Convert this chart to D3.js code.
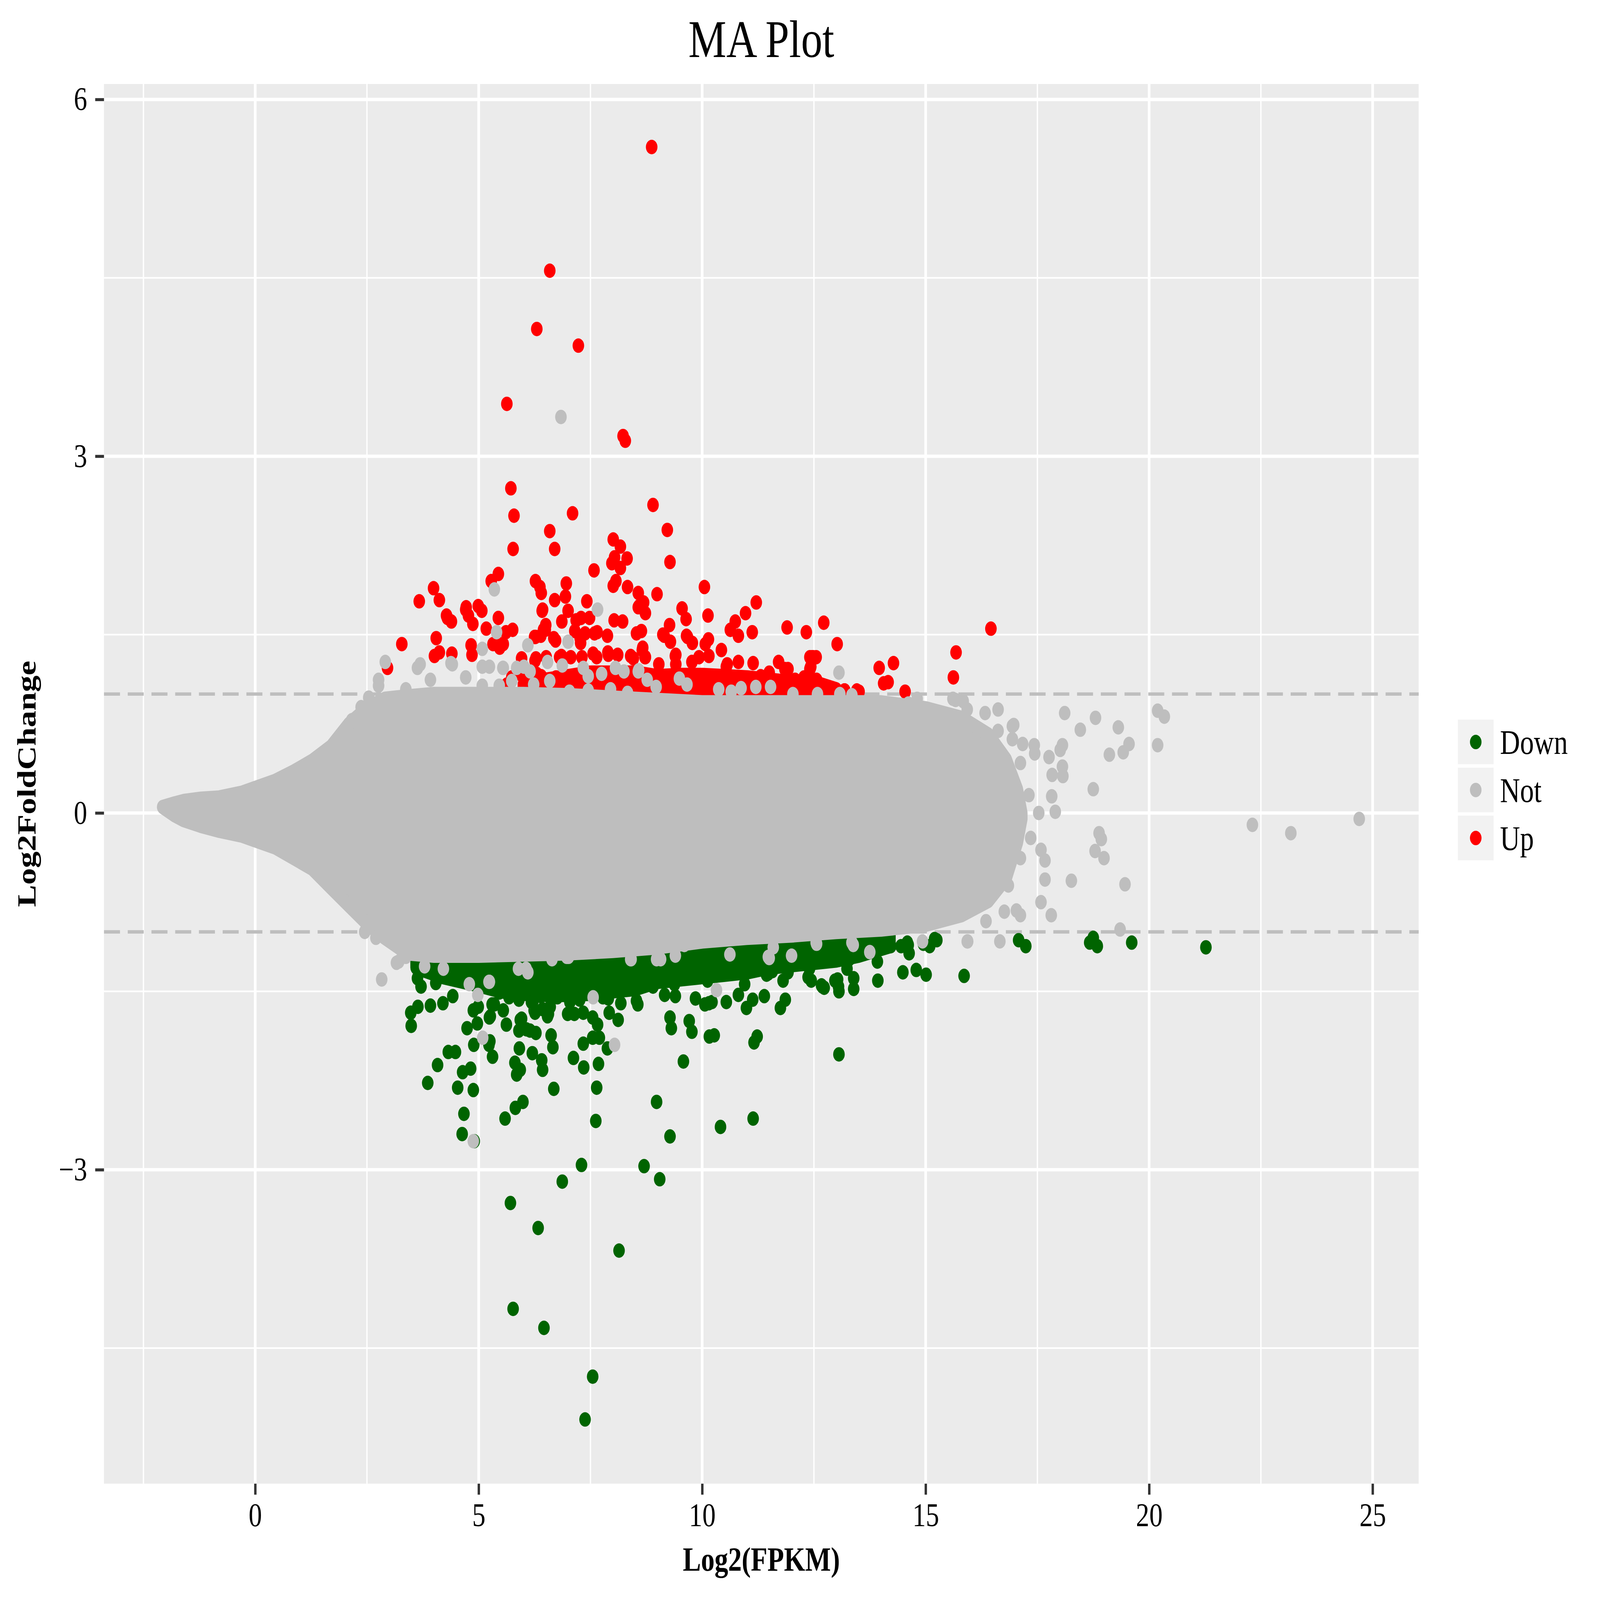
<!DOCTYPE html>
<html>
<head>
<meta charset="utf-8">
<script src="https://cdn.jsdelivr.net/npm/d3@7"></script>
<style>
  html, body { margin: 0; padding: 0; background: #ffffff; overflow: hidden; }
  #chart svg { display: block; width: 100vw; height: 100vh; }
  text { font-family: "Liberation Serif", "Times New Roman", serif; }
</style>
</head>
<body>
<div id="chart"></div>
<script>
// Values (x = Log2(FPKM), y = Log2FoldChange)

// axis ticks
const xMajor = [0, 5, 10, 15, 20, 25];
const xMinor = [-2.5, 2.5, 7.5, 12.5, 17.5, 22.5];
const yMajor = [-3, 0, 3, 6];
const yMinor = [-4.5, -1.5, 1.5, 4.5];
const cutoffs = [-1, 1];
const groups = ["Down", "Not", "Up"];

// dense grey cloud of "Not" genes: outline of the point centres
const cloudX    = [-2.07, -1.8, -1.6, -1.2, -0.8, -0.3, 0.0, 0.45, 0.87, 1.28, 1.7, 2.1, 2.5, 2.9, 3.4, 4.0, 5.0, 6.0, 7.0, 8.0, 9.0, 10.0, 11.0, 12.0, 13.0, 14.0, 15.0, 15.8, 16.4, 16.8, 17.05, 17.15];
const cloudHigh = [0.05, 0.08, 0.10, 0.12, 0.13, 0.17, 0.21, 0.27, 0.35, 0.44, 0.56, 0.75, 0.88, 0.96, 0.98, 1.0, 1.0, 1.0, 0.99, 0.97, 0.95, 0.93, 0.93, 0.93, 0.93, 0.93, 0.88, 0.8, 0.66, 0.45, 0.2, 0.0];
const cloudLow  = [0.05, -0.02, -0.06, -0.11, -0.15, -0.19, -0.23, -0.29, -0.38, -0.47, -0.63, -0.78, -0.93, -1.05, -1.18, -1.2, -1.2, -1.19, -1.18, -1.16, -1.13, -1.08, -1.05, -1.03, -1.0, -0.98, -0.94, -0.86, -0.74, -0.55, -0.25, -0.05];

// dense cores of the Up / Down groups
const upCoreX    = [6.0, 6.5, 7.0, 7.5, 8.0, 8.5, 9.0, 9.5, 10.0, 10.5, 11.0, 11.5, 12.0, 12.5, 13.0];
const upCoreHigh = [1.08, 1.12, 1.15, 1.18, 1.18, 1.18, 1.15, 1.16, 1.16, 1.15, 1.14, 1.12, 1.1, 1.1, 1.04];
const upCoreLow  = [1.0, 1.0, 1.0, 1.0, 1.0, 1.0, 1.0, 1.0, 1.0, 1.0, 1.0, 1.0, 1.0, 1.0, 1.0];

const downCoreX    = [3.6, 4.2, 5.0, 5.5, 6.0, 6.5, 7.0, 7.5, 8.0, 8.5, 9.0, 9.5, 10.0, 10.5, 11.0, 11.5, 12.0, 12.5, 13.0, 13.5, 14.2];
const downCoreHigh = [-1.1, -1.1, -1.1, -1.1, -1.1, -1.1, -1.1, -1.1, -1.1, -1.08, -1.06, -1.04, -1.03, -1.02, -1.02, -1.02, -1.02, -1.02, -1.02, -1.02, -1.02];
const downCoreLow  = [-1.3, -1.38, -1.45, -1.5, -1.52, -1.53, -1.53, -1.52, -1.5, -1.48, -1.42, -1.4, -1.38, -1.36, -1.34, -1.3, -1.28, -1.26, -1.24, -1.2, -1.12];

// individual Up points
const upPoints = [
  [8.87,5.60],[6.59,4.56],[6.30,4.07],[7.23,3.93],[5.63,3.44],[8.23,3.17],[8.28,3.13],[5.72,2.73],[5.79,2.50],[5.77,2.22],
  [8.90,2.59],[7.10,2.52],[6.59,2.37],[6.70,2.22],[9.22,2.38],[9.28,2.11],[8.01,2.30],[8.17,2.24],[8.04,2.15],[7.98,2.10],
  [8.17,2.06],[8.32,2.14],[7.58,2.04],[8.01,1.91],[8.07,1.95],[8.33,1.90],[5.44,2.01],[5.28,1.95],[3.99,1.89],[4.12,1.79],
  [3.67,1.78],[6.27,1.95],[6.37,1.90],[6.40,1.85],[6.96,1.93],[6.94,1.82],[6.70,1.79],[6.42,1.70],[7.00,1.70],[7.42,1.78],
  [8.57,1.85],[8.69,1.77],[8.59,1.74],[8.73,1.68],[8.99,1.84],[10.05,1.90],[9.55,1.72],[9.64,1.63],[10.13,1.66],[11.21,1.77],
  [10.97,1.68],[10.74,1.61],[10.63,1.54],[10.81,1.49],[11.12,1.52],[11.90,1.56],[12.33,1.52],[12.72,1.60],[13.02,1.42],[16.46,1.55],
  [15.68,1.35],[15.62,1.14],[13.96,1.22],[14.28,1.26],[14.16,1.10],[14.06,1.09],[14.54,1.02],[12.48,1.31],[12.43,1.23],[12.57,1.11],
  [11.71,1.27],[11.85,1.21],[11.50,1.18],[11.14,1.26],[10.81,1.27],[10.56,1.25],[10.43,1.37],[10.14,1.46],[10.07,1.42],[9.27,1.58],
  [9.12,1.50],[9.29,1.44],[9.67,1.48],[9.78,1.43],[9.40,1.32],[9.03,1.25],[8.53,1.51],[8.64,1.53],[8.67,1.39],[8.46,1.30],
  [8.22,1.61],[8.03,1.62],[7.88,1.49],[7.59,1.51],[7.29,1.64],[7.18,1.62],[6.86,1.61],[7.15,1.53],[7.38,1.51],[6.50,1.58],
  [6.45,1.54],[6.25,1.48],[6.72,1.45],[7.28,1.43],[5.44,1.64],[5.17,1.55],[5.76,1.54],[5.61,1.52],[5.32,1.42],[5.47,1.39],
  [4.72,1.73],[4.77,1.66],[4.87,1.59],[4.99,1.74],[5.07,1.70],[4.28,1.66],[4.39,1.61],[4.05,1.47],[3.28,1.42],[2.96,1.22],
  [4.01,1.32],[4.12,1.35],[4.40,1.34],[4.83,1.41],[4.85,1.33],[5.96,1.30],[6.28,1.30],[6.27,1.48],
  [6.26,1.28],[6.51,1.31],[6.81,1.31],[7.06,1.31],[7.31,1.31],[7.64,1.31],[7.89,1.35],[8.11,1.33],[8.66,1.37],[8.72,1.31],
  [9.41,1.33],[9.41,1.25],[9.77,1.27],[9.93,1.31],[10.15,1.32],[10.54,1.23],[11.92,1.21],[12.41,1.31],[12.55,1.31],[12.41,1.21],
  [13.19,1.03],[13.46,1.03],[6.40,1.15],[6.29,1.09],[6.95,1.10],[7.17,1.12],[7.12,1.04],[7.67,1.11],[7.89,1.16],[8.28,1.13],
  [8.44,1.09],[8.77,1.07],[9.16,1.07],[9.21,1.14],[9.71,1.11],[10.04,1.09],[10.32,1.11],[10.48,1.07],[10.76,1.11],[10.98,1.11],
  [11.31,1.15],[11.53,1.11],[11.81,1.10],[12.08,1.12],[12.30,1.07],[11.59,1.01],[10.87,1.01],[9.99,1.04],[9.49,1.04],[7.50,1.01],
  [6.90,1.03],[5.74,1.14],[5.63,1.08],[5.96,1.16],
  [4.71,1.71],[4.30,1.64],[5.43,1.43],[5.55,1.42],[6.43,1.71],[6.39,1.49],[6.68,1.47],[7.27,1.47],[7.48,1.64],[7.65,1.52],
  [8.57,1.73],[9.15,1.49],[9.65,1.49],[6.49,1.54],[6.85,1.32],[7.56,1.34],[7.90,1.33],[8.40,1.32],[8.73,1.31],[8.82,1.09],
  [8.98,1.04],[7.56,1.14],[6.73,1.14],[6.30,1.17],[9.49,1.07],
  [12.46,1.31],[12.42,1.22],[12.56,1.12],[12.28,1.14],[13.18,1.03],[13.51,1.02]
];

// individual Down points
const downPoints = [
  [3.86,-2.27],[4.08,-2.12],[4.32,-2.01],[4.48,-2.01],[4.53,-2.31],[4.64,-2.18],[4.82,-2.15],[4.88,-2.33],[4.67,-2.53],[4.63,-2.70],
  [4.90,-2.76],[5.59,-2.57],[5.82,-2.48],[5.99,-2.43],[6.68,-2.32],[7.64,-2.31],[7.62,-2.59],[8.98,-2.43],[9.28,-2.72],[10.41,-2.64],
  [11.14,-2.57],[13.06,-2.03],[7.30,-2.96],[6.87,-3.10],[8.70,-2.97],[9.05,-3.08],[5.71,-3.28],[6.33,-3.49],[8.14,-3.68],[5.77,-4.17],
  [6.46,-4.33],[7.55,-4.74],[7.38,-5.10],[9.58,-2.09],[7.35,-2.14],[7.12,-2.06],[7.68,-2.11],[5.91,-1.98],[6.20,-2.02],[6.41,-2.08],
  [6.43,-2.16],[6.62,-1.87],[6.66,-1.97],[5.85,-2.20],[5.93,-2.16],[5.81,-2.10],[4.89,-1.95],[5.23,-1.95],[5.31,-2.05],[4.97,-1.77],
  [4.74,-1.81],[5.62,-1.78],[3.49,-1.79],[3.48,-1.68],[3.64,-1.63],[3.92,-1.62],[4.20,-1.60],[7.34,-1.94],[7.55,-1.89],[7.70,-1.89],
  [7.88,-1.98],[8.12,-1.74],[7.66,-1.78],[7.55,-1.72],[6.99,-1.69],[6.54,-1.71],[6.26,-1.68],[6.18,-1.59],[6.60,-1.63],[5.96,-1.73],
  [6.28,-1.85],[6.07,-1.82],[9.28,-1.72],[9.31,-1.81],[9.71,-1.75],[9.77,-1.84],[10.16,-1.88],[10.27,-1.87],[11.23,-1.88],[11.16,-1.93],
  [11.75,-1.64],[11.86,-1.57],[10.99,-1.64],[10.81,-1.53],[11.13,-1.57],[11.39,-1.54],[10.54,-1.59],[10.22,-1.59],[9.85,-1.56],[10.06,-1.61],
  [12.73,-1.47],[13.06,-1.50],[13.39,-1.48],[13.39,-1.39],[13.03,-1.40],[12.67,-1.45],[11.81,-1.41],[11.92,-1.34],[14.49,-1.34],[14.79,-1.32],
  [15.01,-1.36],[15.86,-1.37],[13.92,-1.25],[14.05,-1.03],[14.22,-1.12],[14.63,-1.18],[14.59,-1.09],[15.09,-1.12],[15.25,-1.07],[17.08,-1.07],
  [17.24,-1.12],[8.56,-1.61],[8.18,-1.60],[8.53,-1.58],[12.40,-1.31],[12.37,-1.38],[12.44,-1.41],[11.44,-1.36],[11.57,-1.33],
  [5.35,-1.61],[5.24,-1.72],[5.93,-1.74],[5.90,-1.83],[6.15,-1.83],[5.25,-1.92],[7.92,-1.68],[7.34,-1.68],[6.24,-1.66],[10.95,-1.44],
  [10.15,-1.60],[12.69,-1.46],[13.05,-1.46],[13.19,-1.22],[12.69,-1.21],[11.48,-1.35],[10.54,-1.33],[10.12,-1.41],[9.38,-1.44],[9.16,-1.53],
  [7.78,-1.55],[7.26,-1.57],[7.04,-1.59],[6.76,-1.55],[6.43,-1.65],[6.21,-1.59],[5.90,-1.57],[5.68,-1.55],[5.46,-1.51],[4.99,-1.63],
  [3.63,-1.39],[3.71,-1.46],[4.04,-1.43],[4.42,-1.54],[5.26,-1.71],[7.14,-1.69],[6.56,-1.69],[5.55,-1.66],[4.88,-1.66],[5.30,-1.61],
  [5.72,-1.43],[6.39,-1.54],[6.89,-1.49],[7.31,-1.46],[7.90,-1.56],[8.90,-1.46],[9.40,-1.54],[3.63,-1.31],
  [14.61,-1.11],[15.20,-1.06],[13.29,-1.23],[12.69,-1.17],[12.97,-1.41],[18.75,-1.05],[18.67,-1.09],[18.84,-1.12],[19.61,-1.09],[21.27,-1.13],
  [13.24,-1.31],[13.93,-1.41],[14.45,-1.12],[14.95,-1.10]
];

// individual Not points outside the dense cloud
const notPoints = [
  [6.84,3.33],[5.35,1.88],[7.66,1.71],[5.40,1.52],[6.10,1.41],[7.00,1.44],[2.91,1.27],[3.69,1.25],[4.41,1.25],[13.06,1.18],
  [5.54,1.22],[16.62,0.87],[16.33,0.84],[15.67,0.95],[14.81,0.96],[16.97,0.74],[14.61,0.92],[5.08,1.38],[5.08,1.23],[5.24,1.23],
  [5.55,1.22],[5.85,1.22],[6.01,1.23],[6.15,1.19],[6.54,1.27],[6.87,1.24],[6.59,1.11],[7.34,1.22],[7.45,1.15],[7.75,1.17],
  [8.06,1.22],[8.25,1.19],[8.58,1.20],[8.77,1.12],[8.97,1.06],[9.49,1.13],[9.66,1.08],[10.37,1.04],[10.87,1.05],[11.20,1.06],
  [11.53,1.06],[10.65,1.02],[12.03,1.00],[12.58,1.00],[13.08,1.00],[13.35,0.99],[5.08,1.07],[5.46,1.07],[5.74,1.11],[6.23,1.08],
  [7.03,1.02],[7.45,1.03],[7.95,1.04],[8.33,1.01],[3.63,1.22],[4.38,1.26],[8.57,1.19],[4.71,1.14],[3.92,1.12],[3.37,1.04],
  [2.76,1.07],[2.76,1.12],[2.16,0.78],[2.37,0.89],[2.54,0.97],
  [2.70,-1.05],[2.45,-1.0],[2.96,-1.06],[3.21,-1.25],[3.37,-1.21],[3.79,-1.29],[4.21,-1.31],[5.89,-1.31],[6.64,-1.23],[6.97,-1.21],
  [8.40,-1.23],[8.98,-1.23],[9.40,-1.20],[9.57,-1.10],[2.83,-1.40],[4.79,-1.44],[5.23,-1.42],[4.98,-1.53],[5.09,-1.89],[6.06,-1.31],
  [7.56,-1.55],[8.04,-1.95],[10.32,-1.49],[10.62,-1.19],[9.07,-1.23],[11.50,-1.22],[12.00,-1.20],[13.75,-1.17],[15.94,-1.08],[16.66,-1.08],
  [4.88,-2.76],[3.16,-1.26],[5.24,-1.42],[6.10,-1.34],[8.41,-1.23],[11.48,-1.21],[11.59,-1.13],[12.55,-1.09],[13.35,-1.09],[9.60,-1.11],
  [7.01,-1.21],
  [15.61,0.96],[15.84,0.94],[15.93,0.87],[18.11,0.84],[18.80,0.80],[18.46,0.70],[19.31,0.72],[20.19,0.86],[20.34,0.81],[20.19,0.57],
  [19.55,0.58],[19.42,0.51],[19.11,0.49],[18.06,0.57],[18.01,0.53],[17.76,0.47],[17.43,0.57],[17.44,0.50],[17.17,0.58],[17.12,0.42],
  [18.06,0.39],[18.07,0.31],[17.83,0.32],[18.75,0.20],[17.31,0.15],[17.82,0.14],[17.90,0.01],[17.53,0.00],[17.03,-0.05],[22.31,-0.10],
  [23.17,-0.17],[24.70,-0.05],[18.88,-0.17],[18.93,-0.22],[18.79,-0.32],[18.99,-0.38],[17.35,-0.21],[17.58,-0.31],[17.67,-0.40],[17.12,-0.38],
  [18.26,-0.57],[17.67,-0.56],[19.46,-0.60],[17.58,-0.75],[17.81,-0.86],[17.03,-0.82],[17.12,-0.86],[19.35,-0.98],[15.93,-1.08],[16.35,-0.91],
  [16.76,-0.83],[16.85,-0.61],[16.76,-0.51],[16.85,-0.28],[17.03,0.19],[16.94,0.62],[16.62,0.69],[16.94,0.73],[14.93,-1.08],[12.56,-1.10],
  [13.38,-1.11]
];

// ---- layout ----
const width = 6000;
const height = 4800;
const panel = { left: 390, right: 5320, top: 252, bottom: 4451 };
const pointR = 21.7;
const colors = { Down: "#006400", Not: "#BEBEBE", Up: "#FF0000" };

// the drawing is laid out on a 6000x4800 grid and stretched to fill the window
const svg = d3.select("#chart").append("svg")
    .attr("viewBox", `0 0 ${width} ${height}`)
    .attr("preserveAspectRatio", "none");

svg.append("rect").attr("width", width).attr("height", height).attr("fill", "#ffffff");

const x = d3.scaleLinear().domain([-3.383, 26.03]).range([panel.left, panel.right]);
const y = d3.scaleLinear().domain([-5.64, 6.13]).range([panel.bottom, panel.top]);

// panel background
svg.append("rect")
    .attr("x", panel.left).attr("y", panel.top)
    .attr("width", panel.right - panel.left).attr("height", panel.bottom - panel.top)
    .attr("fill", "#EBEBEB");

const grid = svg.append("g");
// minor grid
grid.selectAll(".vmin").data(xMinor).enter().append("line")
    .attr("x1", d => x(d)).attr("x2", d => x(d))
    .attr("y1", panel.top).attr("y2", panel.bottom)
    .attr("stroke", "#ffffff").attr("stroke-width", 5);
grid.selectAll(".hmin").data(yMinor).enter().append("line")
    .attr("y1", d => y(d)).attr("y2", d => y(d))
    .attr("x1", panel.left).attr("x2", panel.right)
    .attr("stroke", "#ffffff").attr("stroke-width", 5);
// major grid
grid.selectAll(".vmaj").data(xMajor).enter().append("line")
    .attr("x1", d => x(d)).attr("x2", d => x(d))
    .attr("y1", panel.top).attr("y2", panel.bottom)
    .attr("stroke", "#ffffff").attr("stroke-width", 10);
grid.selectAll(".hmaj").data(yMajor).enter().append("line")
    .attr("y1", d => y(d)).attr("y2", d => y(d))
    .attr("x1", panel.left).attr("x2", panel.right)
    .attr("stroke", "#ffffff").attr("stroke-width", 10);

// cutoff lines
svg.append("g").selectAll("line").data(cutoffs).enter().append("line")
    .attr("x1", panel.left).attr("x2", panel.right)
    .attr("y1", d => y(d)).attr("y2", d => y(d))
    .attr("stroke", "#BEBEBE").attr("stroke-width", 10)
    .attr("stroke-dasharray", "60 29");

// dense areas, drawn with a round stroke one point wide so the edge looks like dots
const band = d3.area()
    .x(d => x(d[0]))
    .y0(d => y(d[1]))
    .y1(d => y(d[2]));

function drawBand(xs, lows, highs, color) {
  const rows = xs.map((v, i) => [v, lows[i], highs[i]]);
  svg.append("path")
      .datum(rows)
      .attr("d", band)
      .attr("fill", color)
      .attr("stroke", color)
      .attr("stroke-width", pointR * 2)
      .attr("stroke-linejoin", "round")
      .attr("stroke-linecap", "round");
}

function drawPoints(rows, color) {
  svg.append("g").selectAll("circle").data(rows).enter().append("circle")
      .attr("cx", d => x(d[0]))
      .attr("cy", d => y(d[1]))
      .attr("r", pointR)
      .attr("fill", color);
}

drawBand(upCoreX, upCoreLow, upCoreHigh, colors.Up);
drawBand(downCoreX, downCoreLow, downCoreHigh, colors.Down);
drawPoints(upPoints, colors.Up);
drawPoints(downPoints, colors.Down);
drawBand(cloudX, cloudLow, cloudHigh, colors.Not);
drawPoints(notPoints, colors.Not);

// axes
const xAxis = svg.append("g")
    .attr("transform", `translate(0,${panel.bottom})`)
    .call(d3.axisBottom(x).tickValues(xMajor).tickSize(33).tickPadding(23).tickFormat(d3.format("d")));
const yAxis = svg.append("g")
    .attr("transform", `translate(${panel.left},0)`)
    .call(d3.axisLeft(y).tickValues(yMajor).tickSize(33).tickPadding(30).tickFormat(d => d < 0 ? "\u2212" + Math.abs(d) : d));

[xAxis, yAxis].forEach(g => {
  g.select(".domain").remove();
  g.attr("font-family", "Liberation Serif, serif").attr("font-size", 100);
  g.selectAll(".tick line").attr("stroke", "#333333").attr("stroke-width", 9);
  g.selectAll(".tick text").attr("fill", "#000000");
});

// titles
const midX = (panel.left + panel.right) / 2;
const midY = (panel.top + panel.bottom) / 2;
svg.append("text")
    .attr("x", midX).attr("y", 171)
    .attr("text-anchor", "middle")
    .attr("font-size", 160)
    .text("MA Plot");
svg.append("text")
    .attr("x", midX).attr("y", 4712)
    .attr("text-anchor", "middle")
    .attr("font-size", 102).attr("font-weight", "bold")
    .text("Log2(FPKM)");
svg.append("text")
    .attr("transform", `translate(133,${midY}) rotate(-90)`)
    .attr("text-anchor", "middle")
    .attr("font-size", 100).attr("font-weight", "bold")
    .text("Log2FoldChange");

// legend
const legend = svg.append("g").attr("transform", "translate(5462,2154)");
const keySize = 144;
const keys = legend.selectAll("g").data(groups).enter().append("g")
    .attr("transform", (d, i) => `translate(0,${i * keySize})`);
keys.append("rect")
    .attr("width", keySize).attr("height", keySize)
    .attr("fill", "#F2F2F2").attr("stroke", "#ffffff").attr("stroke-width", 10);
keys.append("circle")
    .attr("cx", keySize / 2).attr("cy", keySize / 2)
    .attr("r", pointR)
    .attr("fill", d => colors[d]);
keys.append("text")
    .attr("x", 163).attr("y", keySize / 2 + 36)
    .attr("font-size", 104)
    .text(d => d);
</script>
</body>
</html>
